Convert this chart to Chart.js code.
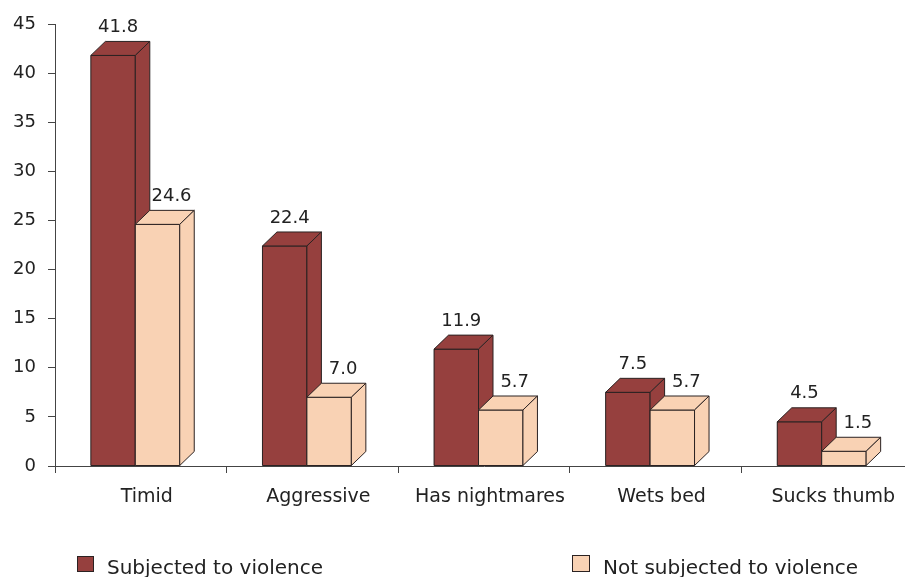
<!DOCTYPE html>
<html>
<head>
<meta charset="utf-8">
<script src="https://cdn.jsdelivr.net/npm/chart.js@4/dist/chart.umd.min.js"></script>
<style>
  html, body { margin: 0; padding: 0; background: #fff; width: 905px; height: 577px; overflow: hidden; }
  #wrap { position: relative; width: 920px; height: 577px; }
  #chart { position: absolute; left: 0; top: 0; }
  .lg-box { position: absolute; box-sizing: border-box; border: 1px solid #2b2222; }
  .lg-text { position: absolute; font-family: "DejaVu Sans", sans-serif; font-size: 20px; line-height: 20px; color: #222; white-space: nowrap; }
</style>
</head>
<body>
<div id="wrap">
  <canvas id="chart" width="920" height="577"></canvas>
</div>
<script>
// ---- data ----
const categories = ["Timid", "Aggressive", "Has nightmares", "Wets bed", "Sucks thumb"];
const subjected = [41.8, 22.4, 11.9, 7.5, 4.5];
const notSubjected = [24.6, 7.0, 5.7, 5.7, 1.5];
const seriesNames = ["Subjected to violence", "Not subjected to violence"];
const yTicks = [0, 5, 10, 15, 20, 25, 30, 35, 40, 45];

// ---- style ----
const colors = ["#96403E", "#F9D2B4"];
const edge = "#2b2222";
const axisColor = "#444444";
const textColor = "#222222";
const font = "DejaVu Sans";
const depthX = 14.5, depthY = 14;
const shiftX = -5.5;
const labelDx = [5, 14];
const labelDy = 28;

const bar3d = {
  id: 'bar3d',
  beforeDatasetsDraw(chart) {
    chart.ctx.save();
    chart.ctx.translate(shiftX, 0);
  },
  afterDatasetsDraw(chart) {
    const ctx = chart.ctx;
    ctx.lineWidth = 1;
    ctx.strokeStyle = edge;
    ctx.lineJoin = 'miter';
    chart.data.datasets.forEach((ds, di) => {
      const meta = chart.getDatasetMeta(di);
      meta.data.forEach((bar) => {
        const p = bar.getProps(['x', 'y', 'base', 'width'], true);
        const l = p.x - p.width / 2, r = p.x + p.width / 2, t = p.y, b = p.base;
        ctx.fillStyle = ds.backgroundColor;
        // front
        ctx.beginPath();
        ctx.rect(l, t, r - l, b - t);
        ctx.fill(); ctx.stroke();
        // top
        ctx.beginPath();
        ctx.moveTo(l, t); ctx.lineTo(l + depthX, t - depthY);
        ctx.lineTo(r + depthX, t - depthY); ctx.lineTo(r, t); ctx.closePath();
        ctx.fill(); ctx.stroke();
        // side
        ctx.beginPath();
        ctx.moveTo(r, t); ctx.lineTo(r + depthX, t - depthY);
        ctx.lineTo(r + depthX, b - depthY); ctx.lineTo(r, b); ctx.closePath();
        ctx.fill(); ctx.stroke();
      });
    });
    // value labels
    ctx.fillStyle = textColor;
    ctx.font = "18px '" + font + "'";
    ctx.textAlign = 'center';
    ctx.textBaseline = 'middle';
    chart.data.datasets.forEach((ds, di) => {
      const meta = chart.getDatasetMeta(di);
      meta.data.forEach((bar, i) => {
        const p = bar.getProps(['x', 'y'], true);
        ctx.fillText(ds.data[i].toFixed(1), p.x + labelDx[di], p.y - labelDy);
      });
    });
    ctx.restore();
  }
};

const chart = new Chart(document.getElementById('chart'), {
  type: 'bar',
  data: {
    labels: categories,
    datasets: [
      { label: seriesNames[0], data: subjected, backgroundColor: colors[0], borderColor: edge, borderWidth: 1 },
      { label: seriesNames[1], data: notSubjected, backgroundColor: colors[1], borderColor: edge, borderWidth: 1 }
    ]
  },
  options: {
    responsive: false,
    devicePixelRatio: 1,
    animation: false,
    categoryPercentage: 0.518,
    barPercentage: 1,
    layout: { padding: { left: 0, right: 7, top: 24, bottom: 0 } },
    plugins: { legend: { display: false }, tooltip: { enabled: false } },
    scales: {
      x: {
        grid: { display: true, drawOnChartArea: false, drawTicks: true, tickLength: 7, color: axisColor, offset: true },
        border: { display: true, color: axisColor, width: 1 },
        ticks: { color: textColor, font: { family: font, size: 19 }, padding: 13, labelOffset: 6, maxRotation: 0, autoSkip: false },
        afterFit(scale) { scale.height = 111; }
      },
      y: {
        min: 0, max: 45,
        afterBuildTicks(scale) { scale.ticks = yTicks.map(v => ({ value: v })); },
        grid: { display: true, drawOnChartArea: false, drawTicks: true, tickLength: 7, color: axisColor },
        border: { display: true, color: axisColor, width: 1 },
        ticks: { color: textColor, font: { family: font, size: 18 }, padding: 12 },
        afterFit(scale) { scale.width = 55; }
      }
    }
  },
  plugins: [bar3d]
});

// ---- legend (HTML, built from the dataset definitions) ----
const legendPos = [
  { box: [77, 556, 17, 16], text: [107, 557] },
  { box: [572, 555, 18, 17], text: [603, 557] }
];
const wrap = document.getElementById('wrap');
chart.data.datasets.forEach((ds, i) => {
  const lp = legendPos[i];
  const box = document.createElement('div');
  box.className = 'lg-box';
  Object.assign(box.style, { left: lp.box[0] + 'px', top: lp.box[1] + 'px', width: lp.box[2] + 'px', height: lp.box[3] + 'px', background: ds.backgroundColor });
  const txt = document.createElement('div');
  txt.className = 'lg-text';
  txt.textContent = ds.label;
  Object.assign(txt.style, { left: lp.text[0] + 'px', top: lp.text[1] + 'px' });
  wrap.appendChild(box); wrap.appendChild(txt);
});
</script>
</body>
</html>
